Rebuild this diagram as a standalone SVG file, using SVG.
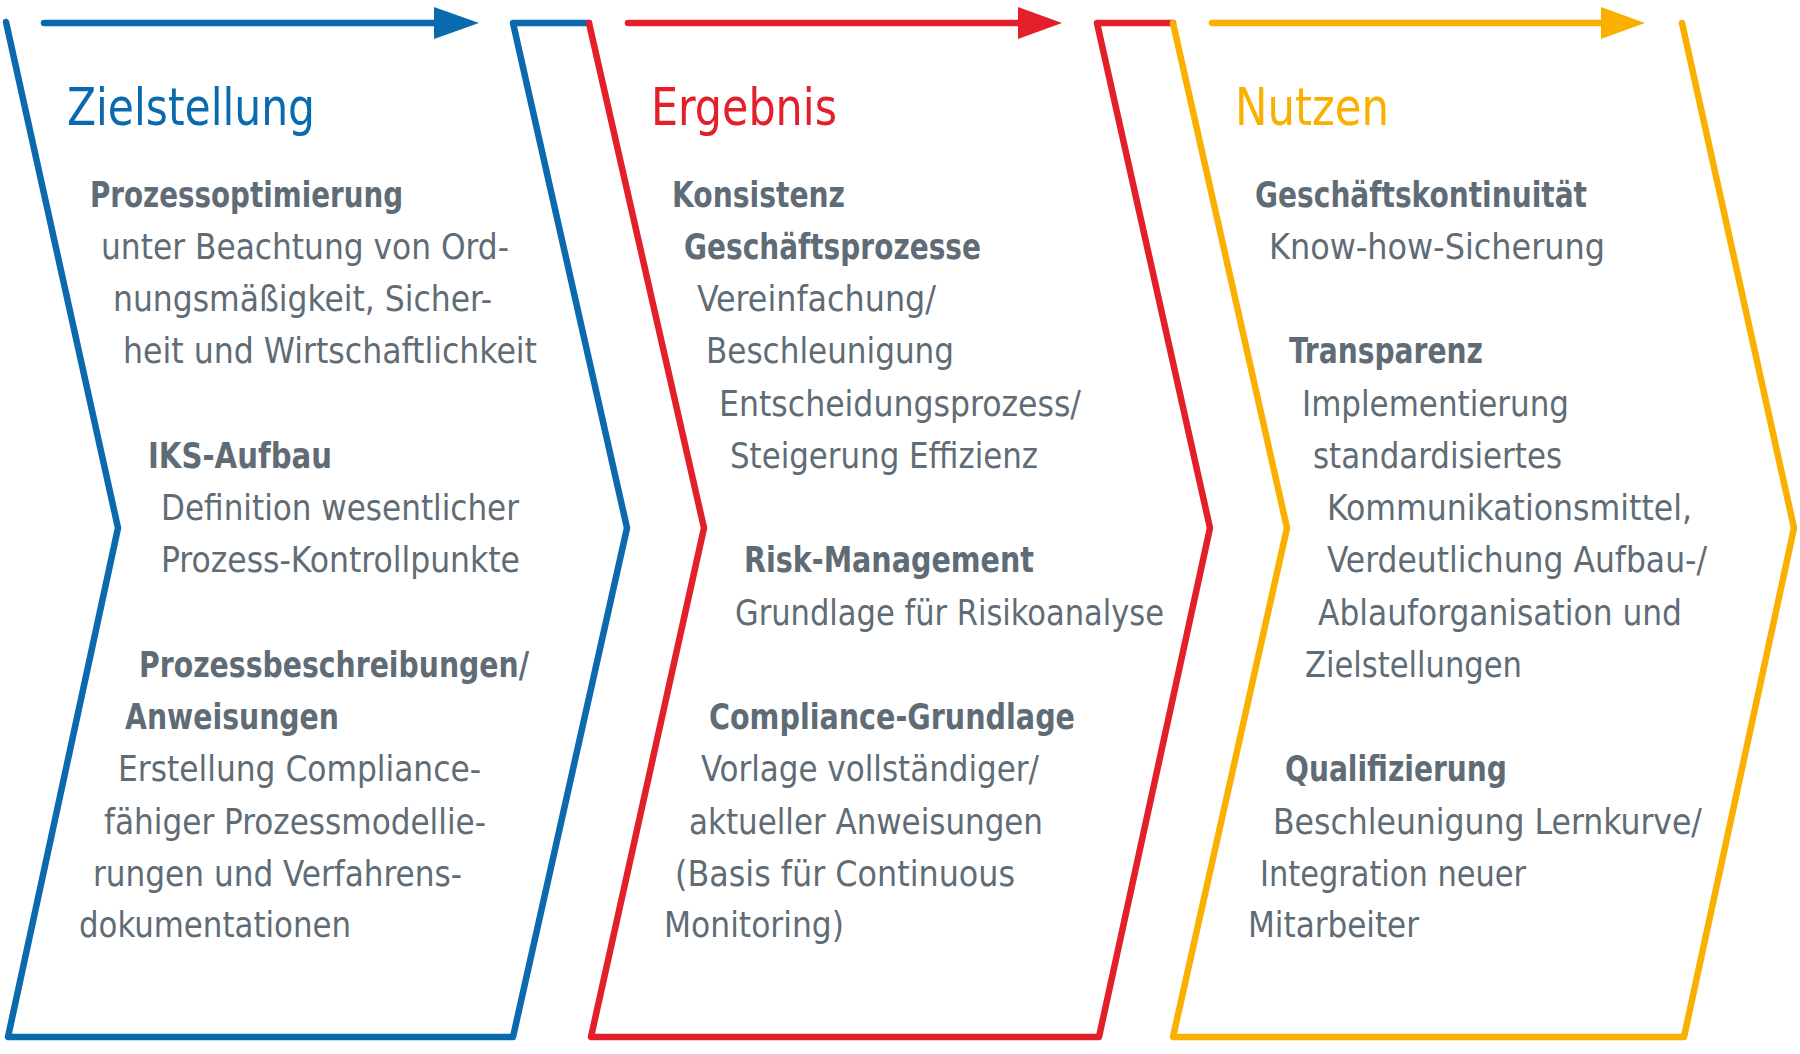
<svg xmlns="http://www.w3.org/2000/svg" width="1800" height="1054" viewBox="0 0 1800 1054">
<style>
.frame{fill:none;stroke-width:6.5;stroke-linecap:round;stroke-linejoin:round}
.blue{stroke:#0a6aae}
.red{stroke:#e3202a}
.yellow{stroke:#f9b000}
.title{font-family:"Liberation Sans Narrow","DejaVu Sans Condensed","Liberation Sans",sans-serif;font-size:52px;font-stretch:condensed}
.b{font-family:"Liberation Sans Narrow","DejaVu Sans Condensed","Liberation Sans",sans-serif;font-size:35px;font-weight:700;fill:#5f6c76;font-stretch:condensed}
.t{font-family:"Liberation Sans Narrow","DejaVu Sans Condensed","Liberation Sans",sans-serif;font-size:35px;fill:#5f6c76;font-stretch:condensed}
</style>
<rect width="1800" height="1054" fill="#ffffff"/>
<g id="connectors">
  <line class="frame blue" x1="44" y1="23" x2="440" y2="23"/>
  <polygon points="434,7 479,23 434,39" fill="#0a6aae"/>
  <line class="frame red" x1="628" y1="23" x2="1024" y2="23"/>
  <polygon points="1018,7 1062,23 1018,39" fill="#e3202a"/>
  <line class="frame yellow" x1="1212" y1="23" x2="1606" y2="23"/>
  <polygon points="1601,7 1645,23 1601,39" fill="#f9b000"/>
</g>
<g id="zielstellung">
  <polyline class="frame blue" points="6,22 118,528 8,1037 513,1037 627,528 513,23 589,23"/>
  <text class="title" x="67" y="125" fill="#0a6aae" textLength="248" lengthAdjust="spacingAndGlyphs">Zielstellung</text>
  <text class="b" x="90" y="207" textLength="313" lengthAdjust="spacingAndGlyphs">Prozessoptimierung</text>
  <text class="t" x="101" y="259" textLength="408" lengthAdjust="spacingAndGlyphs">unter Beachtung von Ord-</text>
  <text class="t" x="113" y="311" textLength="379" lengthAdjust="spacingAndGlyphs">nungsmäßigkeit, Sicher-</text>
  <text class="t" x="123" y="363" textLength="414" lengthAdjust="spacingAndGlyphs">heit und Wirtschaftlichkeit</text>
  <text class="b" x="148" y="468" textLength="184" lengthAdjust="spacingAndGlyphs">IKS-Aufbau</text>
  <text class="t" x="161" y="520" textLength="358" lengthAdjust="spacingAndGlyphs">Definition wesentlicher</text>
  <text class="t" x="161" y="572" textLength="359" lengthAdjust="spacingAndGlyphs">Prozess-Kontrollpunkte</text>
  <text class="b" x="139" y="677" textLength="390" lengthAdjust="spacingAndGlyphs">Prozessbeschreibungen/</text>
  <text class="b" x="125" y="729" textLength="214" lengthAdjust="spacingAndGlyphs">Anweisungen</text>
  <text class="t" x="118" y="781" textLength="363" lengthAdjust="spacingAndGlyphs">Erstellung Compliance-</text>
  <text class="t" x="104" y="834" textLength="382" lengthAdjust="spacingAndGlyphs">fähiger Prozessmodellie-</text>
  <text class="t" x="93" y="886" textLength="369" lengthAdjust="spacingAndGlyphs">rungen und Verfahrens-</text>
  <text class="t" x="79" y="937" textLength="272" lengthAdjust="spacingAndGlyphs">dokumentationen</text>
</g>
<g id="ergebnis">
  <polyline class="frame red" points="589,23 704,528 591,1037 1099,1037 1210,528 1097,23 1173,23"/>
  <text class="title" x="651" y="125" fill="#e3202a" textLength="186" lengthAdjust="spacingAndGlyphs">Ergebnis</text>
  <text class="b" x="672" y="207" textLength="173" lengthAdjust="spacingAndGlyphs">Konsistenz</text>
  <text class="b" x="684" y="259" textLength="297" lengthAdjust="spacingAndGlyphs">Geschäftsprozesse</text>
  <text class="t" x="697" y="311" textLength="239" lengthAdjust="spacingAndGlyphs">Vereinfachung/</text>
  <text class="t" x="706" y="363" textLength="248" lengthAdjust="spacingAndGlyphs">Beschleunigung</text>
  <text class="t" x="719" y="416" textLength="362" lengthAdjust="spacingAndGlyphs">Entscheidungsprozess/</text>
  <text class="t" x="730" y="468" textLength="308" lengthAdjust="spacingAndGlyphs">Steigerung Effizienz</text>
  <text class="b" x="744" y="572" textLength="290" lengthAdjust="spacingAndGlyphs">Risk-Management</text>
  <text class="t" x="735" y="625" textLength="429" lengthAdjust="spacingAndGlyphs">Grundlage für Risikoanalyse</text>
  <text class="b" x="709" y="729" textLength="366" lengthAdjust="spacingAndGlyphs">Compliance-Grundlage</text>
  <text class="t" x="701" y="781" textLength="338" lengthAdjust="spacingAndGlyphs">Vorlage vollständiger/</text>
  <text class="t" x="689" y="834" textLength="354" lengthAdjust="spacingAndGlyphs">aktueller Anweisungen</text>
  <text class="t" x="675" y="886" textLength="340" lengthAdjust="spacingAndGlyphs">(Basis für Continuous</text>
  <text class="t" x="664" y="937" textLength="180" lengthAdjust="spacingAndGlyphs">Monitoring)</text>
</g>
<g id="nutzen">
  <polyline class="frame yellow" points="1173,23 1287,528 1173,1037 1684,1037 1794,528 1682,23"/>
  <text class="title" x="1235" y="125" fill="#f9b000" textLength="154" lengthAdjust="spacingAndGlyphs">Nutzen</text>
  <text class="b" x="1255" y="207" textLength="332" lengthAdjust="spacingAndGlyphs">Geschäftskontinuität</text>
  <text class="t" x="1269" y="259" textLength="336" lengthAdjust="spacingAndGlyphs">Know-how-Sicherung</text>
  <text class="b" x="1289" y="363" textLength="194" lengthAdjust="spacingAndGlyphs">Transparenz</text>
  <text class="t" x="1302" y="416" textLength="267" lengthAdjust="spacingAndGlyphs">Implementierung</text>
  <text class="t" x="1313" y="468" textLength="249" lengthAdjust="spacingAndGlyphs">standardisiertes</text>
  <text class="t" x="1327" y="520" textLength="365" lengthAdjust="spacingAndGlyphs">Kommunikationsmittel,</text>
  <text class="t" x="1327" y="572" textLength="380" lengthAdjust="spacingAndGlyphs">Verdeutlichung Aufbau-/</text>
  <text class="t" x="1318" y="625" textLength="364" lengthAdjust="spacingAndGlyphs">Ablauforganisation und</text>
  <text class="t" x="1305" y="677" textLength="217" lengthAdjust="spacingAndGlyphs">Zielstellungen</text>
  <text class="b" x="1285" y="781" textLength="222" lengthAdjust="spacingAndGlyphs">Qualifizierung</text>
  <text class="t" x="1273" y="834" textLength="429" lengthAdjust="spacingAndGlyphs">Beschleunigung Lernkurve/</text>
  <text class="t" x="1260" y="886" textLength="266" lengthAdjust="spacingAndGlyphs">Integration neuer</text>
  <text class="t" x="1248" y="937" textLength="171" lengthAdjust="spacingAndGlyphs">Mitarbeiter</text>
</g>
</svg>
